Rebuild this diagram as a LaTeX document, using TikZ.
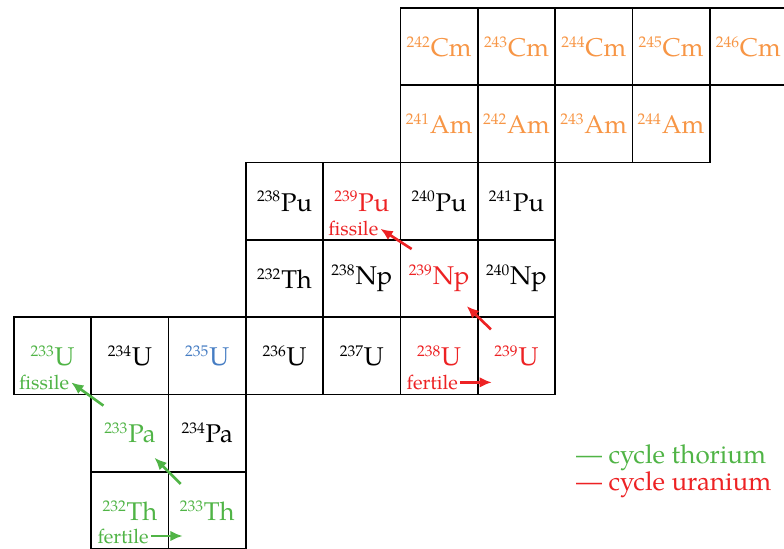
\documentclass[tikz,border=0pt]{standalone}
\usepackage{fontspec}
\setmainfont{texgyrepagella}[Extension=.otf,UprightFont=*-regular,
  BoldFont=*-bold,ItalicFont=*-italic,BoldItalicFont=*-bolditalic]
\usepackage{xcolor}
\usepackage{tikz}
\usetikzlibrary{arrows.meta,positioning}
\definecolor{thgreen}{RGB}{80,180,70}
\definecolor{urred}{RGB}{237,34,36}
\definecolor{amorange}{RGB}{247,150,70}
\definecolor{ublue}{RGB}{70,125,195}
\newcommand{\nuclide}[2]{\textsuperscript{\fontsize{8.8}{9}\selectfont #1}#2}

\begin{document}
\begin{tikzpicture}[
  x=0.02cm,y=-0.02cm,
  cell/.style={rectangle,draw=black,line width=1pt,minimum size=1.546cm,
    inner sep=0pt,font=\fontsize{14.6}{16}\selectfont},
  tag/.style={inner sep=1pt,anchor=west,font=\fontsize{11.3}{13}\selectfont},
  legend/.style={anchor=west,inner sep=1pt,font=\fontsize{14.8}{16}\selectfont},
  tharrow/.style={-{Latex[length=7pt,width=6pt]},line width=1.5pt,color=thgreen},
  urarrow/.style={-{Latex[length=7pt,width=6pt]},line width=1.5pt,color=urred}
]
\useasboundingbox (0,0) rectangle (784,548);
% nuclide cells: name/column/row/colour/mass/element
\foreach \nm/\cx/\ry/\cl/\ms/\el in {
  cma/5/0/amorange/242/Cm, cmb/6/0/amorange/243/Cm, cmc/7/0/amorange/244/Cm,
  cmd/8/0/amorange/245/Cm, cme/9/0/amorange/246/Cm,
  ama/5/1/amorange/241/Am, amb/6/1/amorange/242/Am, amc/7/1/amorange/243/Am,
  amd/8/1/amorange/244/Am,
  pu238/3/2/black/238/Pu, pu239/4/2/urred/239/Pu, pu240/5/2/black/240/Pu,
  pu241/6/2/black/241/Pu,
  thb/3/3/black/232/Th, np238/4/3/black/238/Np, np239/5/3/urred/239/Np,
  np240/6/3/black/240/Np,
  u233/0/4/thgreen/233/U, u234/1/4/black/234/U, u235/2/4/ublue/235/U,
  u236/3/4/black/236/U, u237/4/4/black/237/U, u238/5/4/urred/238/U,
  u239/6/4/urred/239/U,
  pa233/1/5/thgreen/233/Pa, pa234/2/5/black/234/Pa,
  th232/1/6/thgreen/232/Th, th233/2/6/thgreen/233/Th}
  \node[cell,text=\cl] (\nm) at ({14+77.3*(\cx+0.5)},{8+77.3*(\ry+0.5)})
    {\nuclide{\ms}{\el}};

% fissile / fertile tags
\node[tag,text=thgreen] (fisu) at ([shift={(4,-13)}]u233.south west) {fissile};
\node[tag,text=urred] (fispu) at ([shift={(4,-12)}]pu239.south west) {fissile};
\node[tag,text=urred] (feru) at ([shift={(5,-13)}]u238.south west) {fertile};
\node[tag,text=thgreen] (ferth) at ([shift={(5,-14)}]th232.south west) {fertile};

% thorium cycle
\draw[tharrow] (ferth.east) -- ([xshift=0.3cm]th233.west |- ferth.east);
\draw[tharrow] ([shift={(13,13)}]th233.north west) -- ([shift={(-15,-15)}]pa233.south east);
\draw[tharrow] ([shift={(13,12)}]pa233.north west) -- (fisu.east);
% uranium cycle
\draw[urarrow] (feru.east) -- ([xshift=0.3cm]u239.west |- feru.east);
\draw[urarrow] ([shift={(14,13)}]u239.north west) -- ([shift={(-12,-12)}]np239.south east);
\draw[urarrow] ([shift={(12,10)}]np239.north west) -- (fispu.east);

% legend
\node[legend,text=thgreen] (legth) at (574,458) {\textemdash{} cycle thorium};
\node[legend,text=urred] (legur) at (574,485) {\textemdash{} cycle uranium};
\end{tikzpicture}
\end{document}
